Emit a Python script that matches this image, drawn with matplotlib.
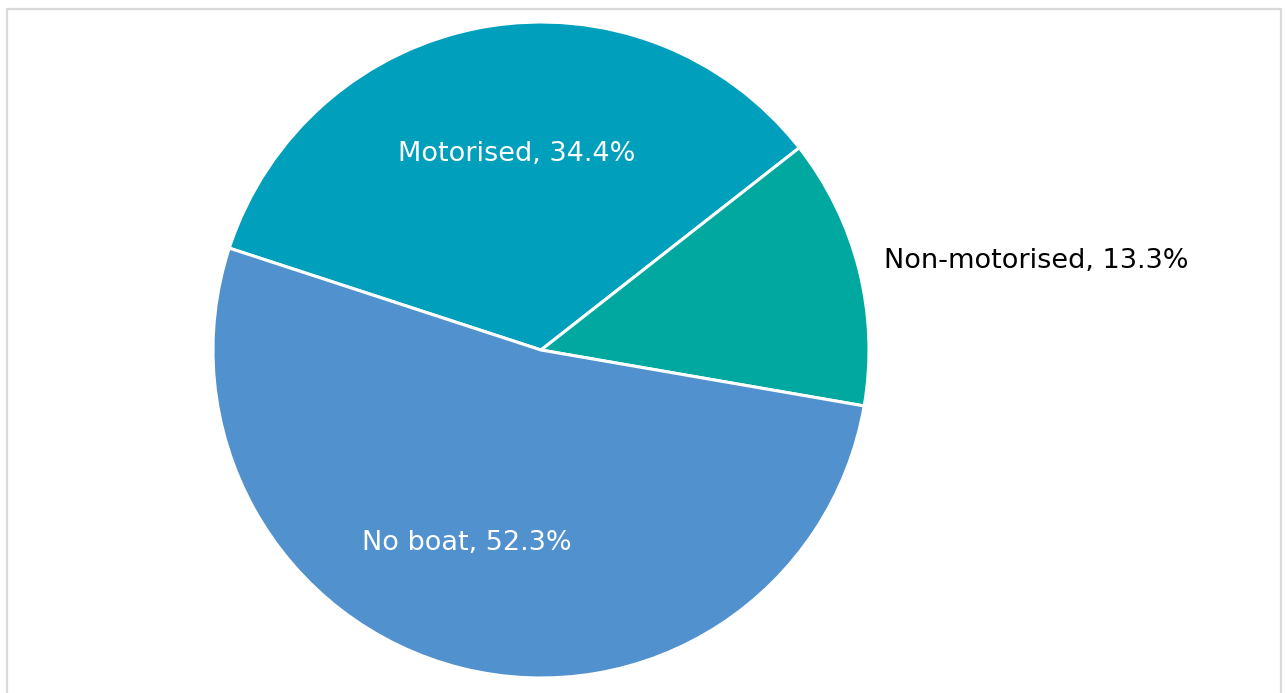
import numpy as np
import matplotlib.pyplot as plt
from matplotlib.patches import Rectangle

# Boat ownership shares
categories = ["Motorised", "Non-motorised", "No boat"]
shares = [34.4, 13.3, 52.3]
colors = ["#00A0BC", "#00A89F", "#5191CD"]
label_colors = ["white", "black", "white"]

W, H = 1285, 693
fig = plt.figure(figsize=(W / 100, H / 100), dpi=100)
ax = fig.add_axes([0, 0, 1, 1])

cx, cy, r = 541, H - 350, 328
start = 161.9

wedges, _ = ax.pie(shares, colors=colors, startangle=start, counterclock=False,
                   center=(cx, cy), radius=r,
                   wedgeprops=dict(edgecolor="white", linewidth=2.2))

ax.set_xlim(0, W)
ax.set_ylim(0, H)
ax.set_aspect("auto")
ax.axis("off")

# light grey outer frame
ax.add_patch(Rectangle((7, -20), 1274, H - 9 + 20, fill=False,
                       edgecolor="#d9d9d9", linewidth=1.6, clip_on=False))

# label placement: (distance in radii, angle offset from wedge middle, alignment)
label_pos = [(0.603, -2.9, "center"), (1.08, 0.4, "left"), (0.63, -7.2, "center")]
for w, cat, val, col, (d, off, ha) in zip(wedges, categories, shares,
                                         label_colors, label_pos):
    mid = np.deg2rad((w.theta1 + w.theta2) / 2 + off)
    x = cx + d * r * np.cos(mid)
    y = cy + d * r * np.sin(mid)
    ax.text(x, y, f"{cat}, {val}%", color=col, fontsize=19.5,
            ha=ha, va="center", family="DejaVu Sans")

fig.savefig("out.png", dpi=100)
